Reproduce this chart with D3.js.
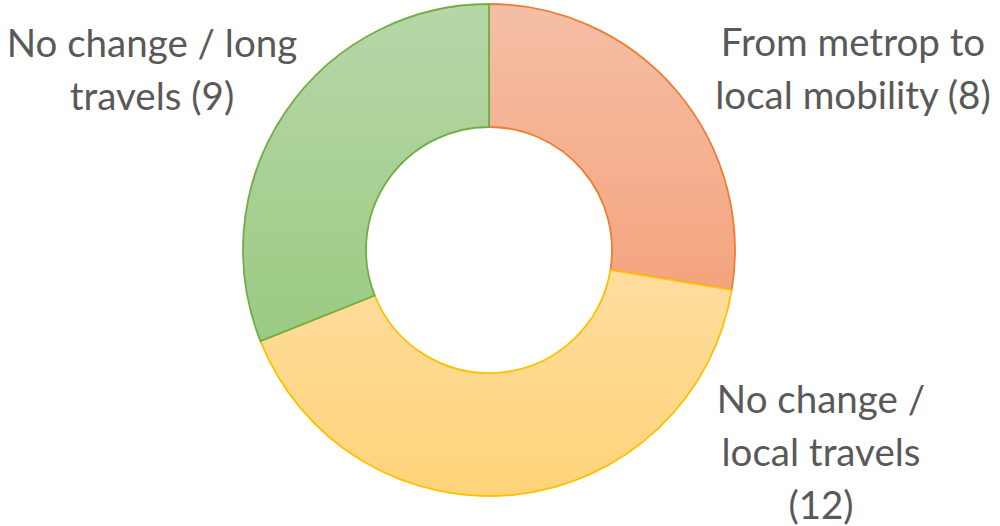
<!DOCTYPE html>
<html>
<head>
<meta charset="utf-8">
<script src="https://cdn.jsdelivr.net/npm/d3@7"></script>
<style>
  html, body { margin: 0; padding: 0; background: #fff; }
  svg { display: block; }
</style>
</head>
<body>
<div id="chart"></div>
<script>
const categories = ["From metrop to local mobility", "No change / local travels", "No change / long travels"];
const counts = [8, 12, 9];
const labelLines = [
  ["From metrop to", "local mobility (8)"],
  ["No change /", "local travels", "(12)"],
  ["No change / long", "travels (9)"]
];

const width = 1000;
const height = 526;
const cx = 489, cy = 250;
const outerR = 246, innerR = 123;

// office-like colours: stroke, gradient top, gradient bottom
const strokes = ["#ED7D31", "#FFC000", "#70AD47"];
const topCols = ["#F5BFA5", "#FEDC9E", "#B6D7A8"];
const botCols = ["#F4A47E", "#FFD479", "#9BCA82"];

// where each label block is centred (x) and its first baseline (y)
const labelPos = [[853, 56], [821, 413], [152, 57]];
const lineH = 53;

const svg = d3.select("#chart")
  .append("svg")
  .attr("width", width)
  .attr("height", height);

const defs = svg.append("defs");
categories.forEach((c, i) => {
  const g = defs.append("linearGradient")
    .attr("id", "grad" + i)
    .attr("x1", 0).attr("y1", 0).attr("x2", 0).attr("y2", 1);
  g.append("stop").attr("offset", "0%").attr("stop-color", topCols[i]);
  g.append("stop").attr("offset", "100%").attr("stop-color", botCols[i]);
});

const pie = d3.pie().sort(null).value(d => d);
const arc = d3.arc().innerRadius(innerR).outerRadius(outerR);

svg.append("g")
  .attr("transform", `translate(${cx},${cy})`)
  .selectAll("path")
  .data(pie(counts))
  .enter()
  .append("path")
  .attr("d", arc)
  .attr("fill", (d, i) => `url(#grad${i})`)
  .attr("stroke", (d, i) => strokes[i])
  .attr("stroke-width", 1.8)
  .attr("stroke-linejoin", "round");

const labels = svg.selectAll(".label")
  .data(labelLines)
  .enter()
  .append("text")
  .attr("class", "label")
  .attr("text-anchor", "middle")
  .attr("font-family", "Lato, 'Open Sans', sans-serif")
  .attr("font-size", "38.5px")
  .attr("fill", "#595959");

labels.each(function(lines, i) {
  const t = d3.select(this);
  lines.forEach((ln, j) => {
    t.append("tspan")
      .attr("x", labelPos[i][0])
      .attr("y", labelPos[i][1] + j * lineH)
      .text(ln);
  });
});
</script>
</body>
</html>
